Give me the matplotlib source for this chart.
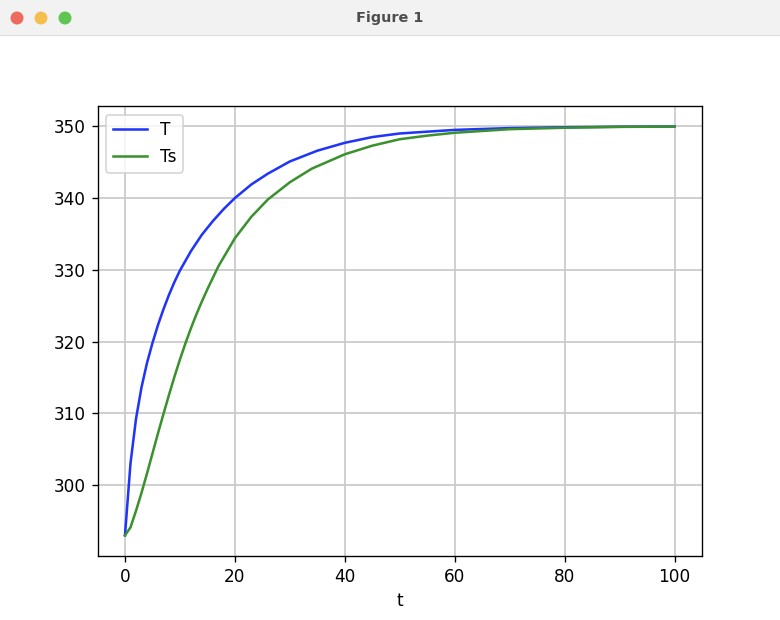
import numpy as np
import matplotlib
matplotlib.use('Agg')
import matplotlib.pyplot as plt
from matplotlib.patches import Rectangle, Ellipse

# data
t_T = [0, 1, 2, 3, 4, 5, 6, 7, 8, 9, 10, 12, 14, 16, 18, 20, 23, 26, 30, 35, 40, 45, 50, 60, 70, 80, 90, 100]
T = [293.0, 303.0, 309.2, 313.6, 317.0, 319.8, 322.3, 324.5, 326.5, 328.3, 329.9, 332.6, 334.9, 336.8, 338.5,
     340.0, 341.9, 343.4, 345.1, 346.6, 347.7, 348.5, 349.0, 349.5, 349.75, 349.87, 349.94, 349.97]

t_Ts = [0, 1, 2, 3, 4, 5, 6, 7, 8, 9, 10, 11, 12, 13, 14, 15, 17, 20, 23, 26, 30, 34, 40, 45, 50, 55, 60, 70, 80, 90, 100]
Ts = [293.0, 294.1, 296.4, 298.9, 301.6, 304.4, 307.2, 309.9, 312.55, 315.1, 317.5, 319.75, 321.85, 323.8, 325.6,
      327.3, 330.5, 334.4, 337.4, 339.8, 342.2, 344.1, 346.1, 347.3, 348.2, 348.7, 349.1, 349.6, 349.8, 349.92, 349.97]

W, H = 780, 620
bar = 36  # title bar height, px

fig = plt.figure(figsize=(W / 121.875, H / 121.875), dpi=121.875)

# window title bar
fig.add_artist(Rectangle((0, 1 - bar / H), 1, bar / H, transform=fig.transFigure,
                         facecolor='#f2f2f2', edgecolor='none'))
fig.add_artist(Rectangle((0, 1 - bar / H), 1, 1 / H, transform=fig.transFigure,
                         facecolor='#dcdcdc', edgecolor='none'))
for x, c in zip([17, 41, 65], ['#ee6a5f', '#f5bf4f', '#61c554']):
    fig.add_artist(Ellipse((x / W, 1 - 18 / H), 13 / W, 13 / H, transform=fig.transFigure,
                           facecolor=c, edgecolor='none'))
fig.text(0.5, 1 - 18 / H, 'Figure 1', ha='center', va='center', fontsize=8.5,
         fontweight='bold', color='#4d4d4d')

top = bar + 0.12 * (H - bar)
bottom = bar + 0.89 * (H - bar)
ax = fig.add_axes([0.125, (H - bottom) / H, 0.775, (bottom - top) / H])

ax.plot(t_T, T, color='#2035f8', label='T')
ax.plot(t_Ts, Ts, color='#3c912f', label='Ts')
ax.set_xlabel('t')
ax.grid(True, color='#c8c8c8', linewidth=1.0)
ax.legend(loc='upper left')

fig.savefig('out.png', dpi=121.875)
